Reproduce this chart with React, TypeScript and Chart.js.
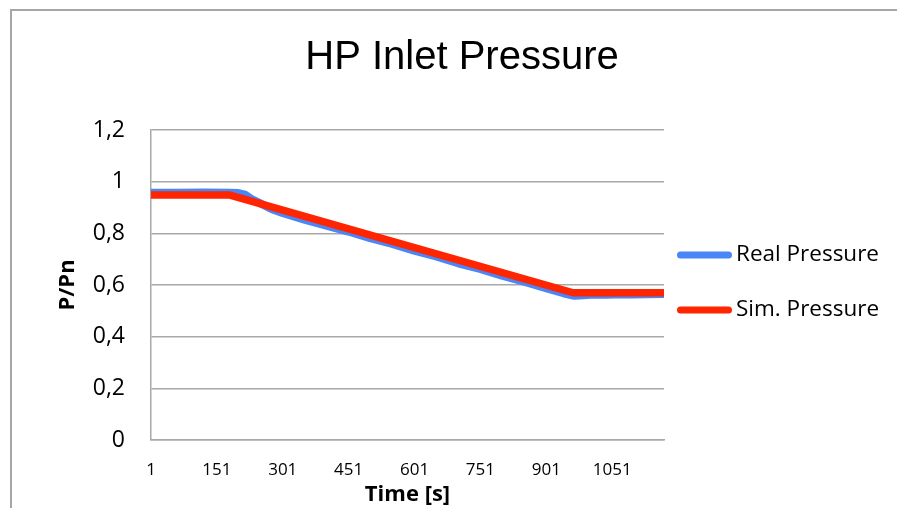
import { useEffect, useRef } from "react";
import { Chart, registerables } from "chart.js";

Chart.register(...registerables);

// ---- data ----
const TITLE = "HP Inlet Pressure";
const X_TITLE = "Time [s]";
const Y_TITLE = "P/Pn";

const X_TICKS = [1, 151, 301, 451, 601, 751, 901, 1051];
const X_MIN = 1;
const X_MAX = 1169;

const Y_TICK_LABELS = ["0", "0,2", "0,4", "0,6", "0,8", "1", "1,2"];
const Y_MIN = 0;
const Y_MAX = 1.2;
const Y_STEP = 0.2;

const REAL_LABEL = "Real Pressure";
const REAL_T = [1, 60, 120, 180, 200, 215, 230, 250, 275, 300, 350, 400, 450, 500, 550, 600, 650, 700, 750, 800, 850, 900, 940, 965, 985, 1010, 1040, 1070, 1100, 1130, 1169];
const REAL_P = [0.957, 0.957, 0.958, 0.957, 0.956, 0.95, 0.933, 0.916, 0.894, 0.879, 0.853, 0.83, 0.807, 0.781, 0.759, 0.733, 0.711, 0.684, 0.662, 0.636, 0.613, 0.588, 0.568, 0.558, 0.56, 0.563, 0.562, 0.564, 0.563, 0.564, 0.565];

const SIM_LABEL = "Sim. Pressure";
const SIM_T = [1, 181, 962, 1169];
const SIM_P = [0.948, 0.948, 0.57, 0.57];

// ---- styles ----
const BLUE = "#4a86f5";
const RED = "#ff2500";
const GRID = "#a8a8a8";
const TEXT = "#000000";
const SANS = "'Open Sans', sans-serif";
const CANVAS_W = 924;
const CANVAS_H = 520;

const frameBorder = {
  id: "frameBorder",
  beforeDraw(chart: any) {
    const { ctx } = chart;
    ctx.save();
    ctx.fillStyle = "#ffffff";
    ctx.fillRect(0, 0, chart.width, chart.height);
    ctx.strokeStyle = "#a6a6a6";
    ctx.lineWidth = 2;
    ctx.strokeRect(11, 10, 2000, 2000);
    ctx.restore();
  },
};

const sideLegend = {
  id: "sideLegend",
  afterDraw(chart: any) {
    const { ctx, chartArea } = chart;
    const midY = (chartArea.top + chartArea.bottom) / 2;
    ctx.save();
    chart.data.datasets.forEach((ds: any, i: number) => {
      const y = midY - 30 + i * 55;
      const x0 = chartArea.right + 16.5;
      const x1 = chartArea.right + 64.5;
      ctx.beginPath();
      ctx.strokeStyle = ds.borderColor;
      ctx.lineWidth = 7;
      ctx.lineCap = "round";
      ctx.moveTo(x0, y);
      ctx.lineTo(x1, y);
      ctx.stroke();
      ctx.fillStyle = TEXT;
      ctx.font = `22.5px ${SANS}`;
      ctx.textAlign = "left";
      ctx.textBaseline = "middle";
      ctx.fillText(ds.label, chartArea.right + 72, y);
    });
    ctx.restore();
  },
};

export default function App() {
  const canvasRef = useRef<HTMLCanvasElement | null>(null);

  useEffect(() => {
    const canvas = canvasRef.current;
    if (!canvas) return;
    const chart = new Chart(canvas, {
      type: "line",
      data: {
        datasets: [
          {
            label: REAL_LABEL,
            data: REAL_T.map((t, i) => ({ x: t, y: REAL_P[i] })),
            borderColor: BLUE,
            backgroundColor: BLUE,
            borderWidth: 8,
            pointRadius: 0,
            tension: 0,
            borderCapStyle: "round",
            borderJoinStyle: "round",
            order: 2,
          },
          {
            label: SIM_LABEL,
            data: SIM_T.map((t, i) => ({ x: t, y: SIM_P[i] })),
            borderColor: RED,
            backgroundColor: RED,
            borderWidth: 7.5,
            pointRadius: 0,
            tension: 0,
            borderCapStyle: "round",
            borderJoinStyle: "round",
            order: 1,
          },
        ],
      },
      options: {
        responsive: false,
        animation: false,
        events: [],
        layout: { padding: 0 },
        plugins: {
          legend: { display: false },
          tooltip: { enabled: false },
          title: {
            display: true,
            text: TITLE,
            color: TEXT,
            font: { family: "'Liberation Sans', Arial, sans-serif", size: 40, weight: "normal" },
            padding: { top: 34, bottom: 48 },
          },
        },
        scales: {
          x: {
            type: "linear",
            min: X_MIN,
            max: X_MAX,
            afterBuildTicks: (s: any) => {
              s.ticks = X_TICKS.map((v) => ({ value: v }));
            },
            ticks: {
              autoSkip: false,
              maxRotation: 0,
              color: TEXT,
              font: { family: SANS, size: 17 },
              padding: 20,
              callback: (v: any) => String(v),
            },
            grid: { display: false, drawTicks: false },
            border: { display: true, color: GRID, width: 1.5 },
            title: {
              display: true,
              text: X_TITLE,
              color: TEXT,
              font: { family: SANS, size: 22, weight: "bold" },
              padding: { top: 0, bottom: 11.8 },
            },
            afterFit: (s: any) => {
              s.height = 80;
            },
          },
          y: {
            type: "linear",
            position: "left",
            min: Y_MIN,
            max: Y_MAX,
            ticks: {
              stepSize: Y_STEP,
              color: TEXT,
              font: { family: SANS, size: 23 },
              padding: 26,
              callback: (v: any) => Y_TICK_LABELS[Math.round(Number(v) / Y_STEP)] ?? "",
            },
            grid: { color: GRID, lineWidth: 1.5, drawTicks: false },
            border: { display: true, color: GRID, width: 1.5 },
            title: {
              display: true,
              text: Y_TITLE,
              color: TEXT,
              font: { family: SANS, size: 22, weight: "bold" },
              padding: { top: 54.8, bottom: 0 },
            },
            afterFit: (s: any) => {
              s.width = 151;
            },
          },
          yR: {
            type: "linear",
            position: "right",
            display: true,
            grid: { display: false, drawTicks: false },
            ticks: { display: false },
            border: { display: false },
            afterFit: (s: any) => {
              s.width = 260;
            },
          },
        },
      },
      plugins: [frameBorder, sideLegend],
    } as any);
    return () => chart.destroy();
  }, []);

  return (
    <div
      style={{
        position: "fixed",
        left: 0,
        top: 0,
        width: 897,
        height: 508,
        overflow: "hidden",
        background: "#ffffff",
      }}
    >
      <canvas
        ref={canvasRef}
        width={CANVAS_W}
        height={CANVAS_H}
        style={{ display: "block", width: CANVAS_W, height: CANVAS_H }}
      />
    </div>
  );
}
